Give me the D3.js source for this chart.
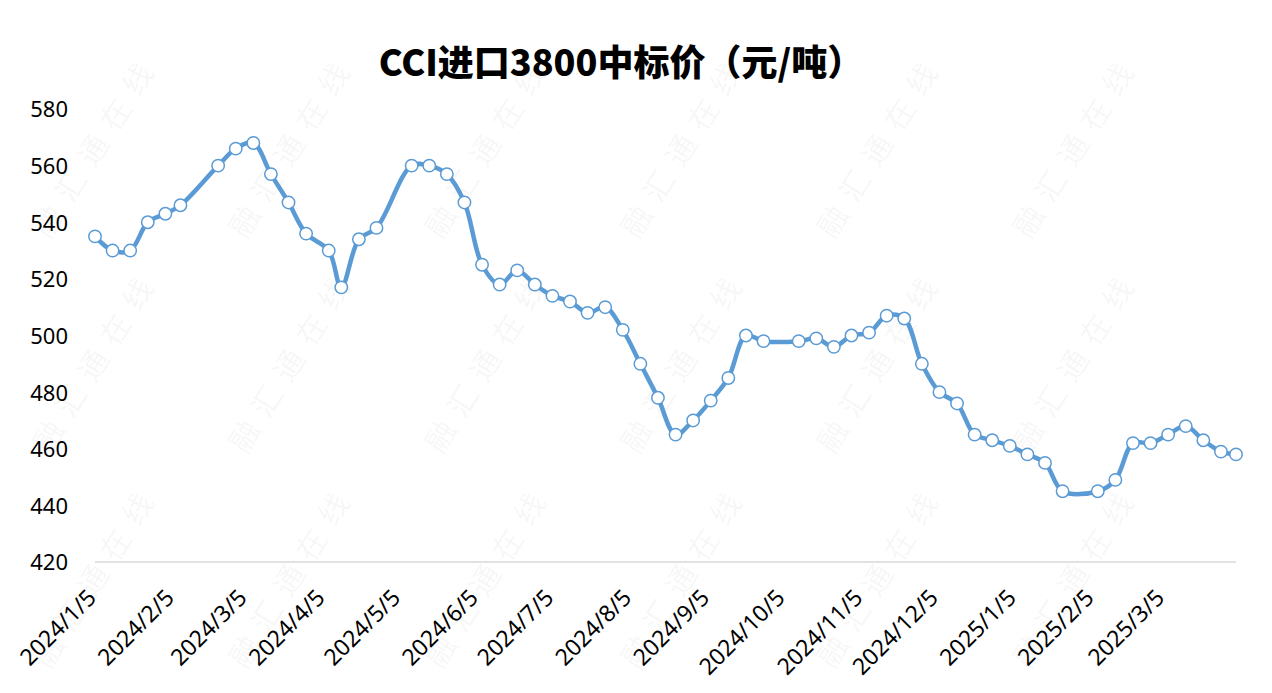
<!DOCTYPE html>
<html>
<head>
<meta charset="utf-8">
<script src="https://cdn.jsdelivr.net/npm/d3@7"></script>
<style>
  body { margin: 0; background: #fff; }
  svg { display: block; }
</style>
</head>
<body>
<div id="chart"></div>
<script>
// weekly CCI import 3800 bid price
const dates = [
  "2024-01-05", "2024-01-12", "2024-01-19", "2024-01-26", "2024-02-02", "2024-02-08",
  "2024-02-23", "2024-03-01", "2024-03-08", "2024-03-15", "2024-03-22", "2024-03-29",
  "2024-04-07", "2024-04-12", "2024-04-19", "2024-04-26", "2024-05-10", "2024-05-17",
  "2024-05-24", "2024-05-31", "2024-06-07", "2024-06-14", "2024-06-21", "2024-06-28",
  "2024-07-05", "2024-07-12", "2024-07-19", "2024-07-26", "2024-08-02", "2024-08-09",
  "2024-08-16", "2024-08-23", "2024-08-30", "2024-09-06", "2024-09-13", "2024-09-20",
  "2024-09-27", "2024-10-11", "2024-10-18", "2024-10-25", "2024-11-01", "2024-11-08",
  "2024-11-15", "2024-11-22", "2024-11-29", "2024-12-06", "2024-12-13", "2024-12-20",
  "2024-12-27", "2025-01-03", "2025-01-10", "2025-01-17", "2025-01-24", "2025-02-07",
  "2025-02-14", "2025-02-21", "2025-02-28", "2025-03-07", "2025-03-14", "2025-03-21",
  "2025-03-28", "2025-04-03"
];
const prices = [
  535, 530, 530, 540, 543, 546,
  560, 566, 568, 557, 547, 536,
  530, 517, 534, 538, 560, 560,
  557, 547, 525, 518, 523, 518,
  514, 512, 508, 510, 502, 490,
  478, 465, 470, 477, 485, 500,
  498, 498, 499, 496, 500, 501,
  507, 506, 490, 480, 476, 465,
  463, 461, 458, 455, 445, 445,
  449, 462, 462, 465, 468, 463,
  459, 458
];
const yTicks = [420, 440, 460, 480, 500, 520, 540, 560, 580];
const xTickLabels = [
  "2024/1/5", "2024/2/5", "2024/3/5", "2024/4/5", "2024/5/5", "2024/6/5", "2024/7/5",
  "2024/8/5", "2024/9/5", "2024/10/5", "2024/11/5", "2024/12/5", "2025/1/5", "2025/2/5", "2025/3/5"
];
const title = "CCI进口3800中标价（元/吨）";
const watermark = "融汇通在线";

const width = 1272;
const height = 693;
const margin = { top: 109, right: 36, bottom: 131, left: 95 };

const parse = d3.timeParse("%Y-%m-%d");
const parseLabel = d3.timeParse("%Y/%m/%d");
const data = dates.map((d, i) => ({ date: parse(d), value: prices[i] }));

const svg = d3.select("#chart")
  .append("svg")
  .attr("width", width)
  .attr("height", height);

// faint watermark, only whole copies inside the picture
const wm = svg.append("g").attr("fill", "#000").attr("fill-opacity", 0.05)
  .style("font-family", "'Noto Sans CJK SC', sans-serif")
  .style("font-size", "30px");
for (let gx = 50; gx < width - 150; gx += 196) {
  for (let gy = 240; gy < height - 10; gy += 215) {
    wm.append("text")
      .attr("transform", `translate(${gx},${gy}) rotate(-58)`)
      .attr("letter-spacing", 12)
      .text(watermark);
  }
}

const x = d3.scaleTime()
  .domain(d3.extent(data, d => d.date))
  .range([margin.left, width - margin.right]);

const y = d3.scaleLinear()
  .domain([420, 580])
  .range([height - margin.bottom, margin.top]);

// bottom gridline (axis line)
svg.append("line")
  .attr("x1", x.range()[0])
  .attr("x2", x.range()[1])
  .attr("y1", y(420))
  .attr("y2", y(420))
  .attr("stroke", "#d9d9d9")
  .attr("stroke-width", 1.5);

// y axis labels
const yAxis = svg.append("g")
  .attr("transform", `translate(${margin.left - 27},0)`)
  .call(d3.axisLeft(y).tickValues(yTicks).tickSize(0).tickPadding(0));
yAxis.select(".domain").remove();
yAxis.selectAll("text")
  .attr("dy", "0.36em")
  .style("font-family", "'Noto Sans', sans-serif")
  .style("font-size", "22px")
  .attr("fill", "#000");

// x axis labels
const xAxis = svg.append("g")
  .attr("transform", `translate(0,${y(420)})`)
  .call(d3.axisBottom(x)
    .tickValues(xTickLabels.map(parseLabel))
    .tickFormat(d3.timeFormat("%Y/%-m/%-d"))
    .tickSize(0));
xAxis.select(".domain").remove();
xAxis.selectAll("text")
  .attr("text-anchor", "end")
  .attr("dx", 0)
  .attr("dy", 0)
  .attr("transform", "translate(0,35) rotate(-45)")
  .style("font-family", "'Noto Sans', sans-serif")
  .style("font-size", "23px")
  .attr("fill", "#000");

// line
const line = d3.line()
  .x(d => x(d.date))
  .y(d => y(d.value))
  .curve(d3.curveCatmullRom.alpha(0.5));

svg.append("path")
  .datum(data)
  .attr("fill", "none")
  .attr("stroke", "#5b9bd5")
  .attr("stroke-width", 4.5)
  .attr("stroke-linejoin", "round")
  .attr("d", line);

svg.selectAll("circle.pt")
  .data(data)
  .enter()
  .append("circle")
  .attr("class", "pt")
  .attr("cx", d => x(d.date))
  .attr("cy", d => y(d.value))
  .attr("r", 6.2)
  .attr("fill", "#fff")
  .attr("stroke", "#5b9bd5")
  .attr("stroke-width", 1.5);

// title
svg.append("text")
  .attr("x", 621)
  .attr("y", 76)
  .attr("text-anchor", "middle")
  .style("font-family", "'Noto Sans CJK SC', sans-serif")
  .style("font-weight", "900")
  .style("font-size", "36px")
  .attr("fill", "#000")
  .text(title);
</script>
</body>
</html>
